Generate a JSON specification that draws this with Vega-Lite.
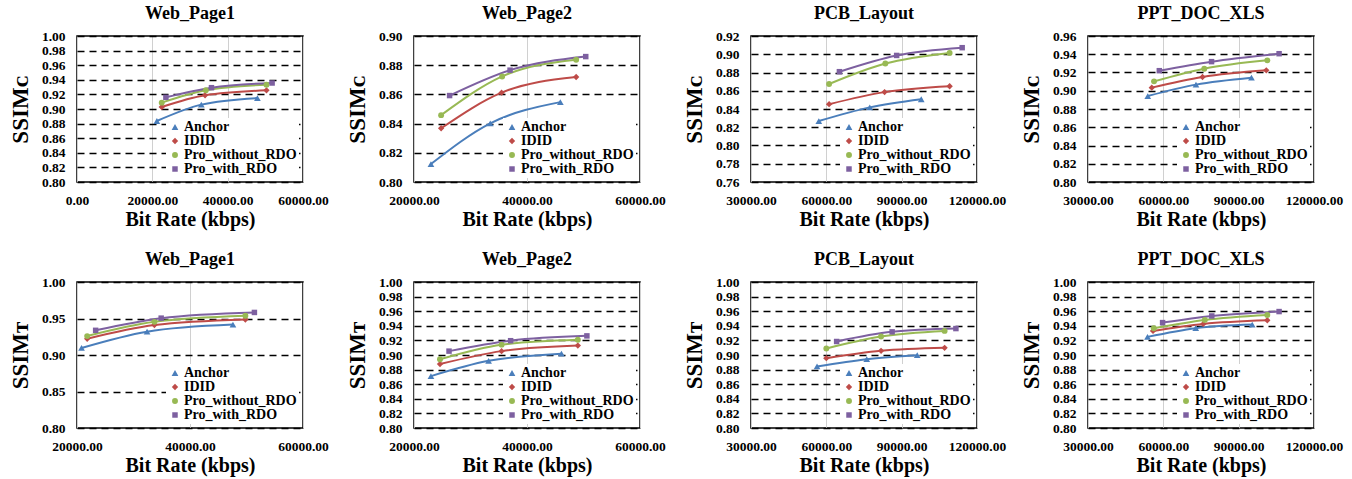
{
  "$schema": "https://vega.github.io/schema/vega-lite/v6.json",
  "padding": {"left": 8, "top": 4, "right": 5, "bottom": 2},
  "background": "white",
  "data": {"values": [
    {"chart":"W1C","series":"Anchor","rate":21200,"ssim":0.8836},
    {"chart":"W1C","series":"Anchor","rate":33000,"ssim":0.9060},
    {"chart":"W1C","series":"Anchor","rate":47900,"ssim":0.9150},
    {"chart":"W1C","series":"IDID","rate":22500,"ssim":0.9027},
    {"chart":"W1C","series":"IDID","rate":34000,"ssim":0.9187},
    {"chart":"W1C","series":"IDID","rate":50300,"ssim":0.9256},
    {"chart":"W1C","series":"Pro_without_RDO","rate":22500,"ssim":0.9087},
    {"chart":"W1C","series":"Pro_without_RDO","rate":34200,"ssim":0.9256},
    {"chart":"W1C","series":"Pro_without_RDO","rate":50300,"ssim":0.9333},
    {"chart":"W1C","series":"Pro_with_RDO","rate":23600,"ssim":0.9160},
    {"chart":"W1C","series":"Pro_with_RDO","rate":35700,"ssim":0.9292},
    {"chart":"W1C","series":"Pro_with_RDO","rate":51800,"ssim":0.9356},

    {"chart":"W2C","series":"Anchor","rate":23000,"ssim":0.8123},
    {"chart":"W2C","series":"Anchor","rate":33500,"ssim":0.8402},
    {"chart":"W2C","series":"Anchor","rate":45900,"ssim":0.8547},
    {"chart":"W2C","series":"IDID","rate":24800,"ssim":0.8368},
    {"chart":"W2C","series":"IDID","rate":35500,"ssim":0.8612},
    {"chart":"W2C","series":"IDID","rate":48700,"ssim":0.8719},
    {"chart":"W2C","series":"Pro_without_RDO","rate":24800,"ssim":0.8458},
    {"chart":"W2C","series":"Pro_without_RDO","rate":35600,"ssim":0.8723},
    {"chart":"W2C","series":"Pro_without_RDO","rate":48700,"ssim":0.8837},
    {"chart":"W2C","series":"Pro_with_RDO","rate":26300,"ssim":0.8592},
    {"chart":"W2C","series":"Pro_with_RDO","rate":37000,"ssim":0.8766},
    {"chart":"W2C","series":"Pro_with_RDO","rate":50400,"ssim":0.8859},

    {"chart":"PC","series":"Anchor","rate":57000,"ssim":0.8268},
    {"chart":"PC","series":"Anchor","rate":77300,"ssim":0.8418},
    {"chart":"PC","series":"Anchor","rate":97800,"ssim":0.8507},
    {"chart":"PC","series":"IDID","rate":61100,"ssim":0.8453},
    {"chart":"PC","series":"IDID","rate":83200,"ssim":0.8585},
    {"chart":"PC","series":"IDID","rate":109100,"ssim":0.8649},
    {"chart":"PC","series":"Pro_without_RDO","rate":61100,"ssim":0.8674},
    {"chart":"PC","series":"Pro_without_RDO","rate":83500,"ssim":0.8898},
    {"chart":"PC","series":"Pro_without_RDO","rate":109100,"ssim":0.9015},
    {"chart":"PC","series":"Pro_with_RDO","rate":65200,"ssim":0.8809},
    {"chart":"PC","series":"Pro_with_RDO","rate":88000,"ssim":0.8987},
    {"chart":"PC","series":"Pro_with_RDO","rate":114100,"ssim":0.9072},

    {"chart":"XC","series":"Anchor","rate":53800,"ssim":0.8942},
    {"chart":"XC","series":"Anchor","rate":73000,"ssim":0.9067},
    {"chart":"XC","series":"Anchor","rate":95100,"ssim":0.9143},
    {"chart":"XC","series":"IDID","rate":55400,"ssim":0.9034},
    {"chart":"XC","series":"IDID","rate":75600,"ssim":0.9151},
    {"chart":"XC","series":"IDID","rate":101000,"ssim":0.9224},
    {"chart":"XC","series":"Pro_without_RDO","rate":56300,"ssim":0.9103},
    {"chart":"XC","series":"Pro_without_RDO","rate":76300,"ssim":0.9242},
    {"chart":"XC","series":"Pro_without_RDO","rate":101400,"ssim":0.9333},
    {"chart":"XC","series":"Pro_with_RDO","rate":58400,"ssim":0.9220},
    {"chart":"XC","series":"Pro_with_RDO","rate":79200,"ssim":0.9319},
    {"chart":"XC","series":"Pro_with_RDO","rate":106100,"ssim":0.9406},

    {"chart":"W1T","series":"Anchor","rate":20800,"ssim":0.9097},
    {"chart":"W1T","series":"Anchor","rate":32400,"ssim":0.9320},
    {"chart":"W1T","series":"Anchor","rate":47600,"ssim":0.9417},
    {"chart":"W1T","series":"IDID","rate":21800,"ssim":0.9222},
    {"chart":"W1T","series":"IDID","rate":33700,"ssim":0.9410},
    {"chart":"W1T","series":"IDID","rate":49800,"ssim":0.9486},
    {"chart":"W1T","series":"Pro_without_RDO","rate":21800,"ssim":0.9259},
    {"chart":"W1T","series":"Pro_without_RDO","rate":33700,"ssim":0.9454},
    {"chart":"W1T","series":"Pro_without_RDO","rate":49800,"ssim":0.9537},
    {"chart":"W1T","series":"Pro_with_RDO","rate":23300,"ssim":0.9338},
    {"chart":"W1T","series":"Pro_with_RDO","rate":34900,"ssim":0.9505},
    {"chart":"W1T","series":"Pro_with_RDO","rate":51400,"ssim":0.9583},

    {"chart":"W2T","series":"Anchor","rate":23000,"ssim":0.8711},
    {"chart":"W2T","series":"Anchor","rate":33200,"ssim":0.8920},
    {"chart":"W2T","series":"Anchor","rate":46100,"ssim":0.9018},
    {"chart":"W2T","series":"IDID","rate":24600,"ssim":0.8876},
    {"chart":"W2T","series":"IDID","rate":35500,"ssim":0.9053},
    {"chart":"W2T","series":"IDID","rate":49000,"ssim":0.9129},
    {"chart":"W2T","series":"Pro_without_RDO","rate":24600,"ssim":0.8942},
    {"chart":"W2T","series":"Pro_without_RDO","rate":35500,"ssim":0.9142},
    {"chart":"W2T","series":"Pro_without_RDO","rate":49000,"ssim":0.9209},
    {"chart":"W2T","series":"Pro_with_RDO","rate":26200,"ssim":0.9053},
    {"chart":"W2T","series":"Pro_with_RDO","rate":37100,"ssim":0.9196},
    {"chart":"W2T","series":"Pro_with_RDO","rate":50600,"ssim":0.9262},

    {"chart":"PT","series":"Anchor","rate":56300,"ssim":0.8843},
    {"chart":"PT","series":"Anchor","rate":76100,"ssim":0.8943},
    {"chart":"PT","series":"Anchor","rate":96200,"ssim":0.8998},
    {"chart":"PT","series":"IDID","rate":60000,"ssim":0.8957},
    {"chart":"PT","series":"IDID","rate":81800,"ssim":0.9057},
    {"chart":"PT","series":"IDID","rate":107100,"ssim":0.9098},
    {"chart":"PT","series":"Pro_without_RDO","rate":60000,"ssim":0.9089},
    {"chart":"PT","series":"Pro_without_RDO","rate":81800,"ssim":0.9253},
    {"chart":"PT","series":"Pro_without_RDO","rate":107100,"ssim":0.9330},
    {"chart":"PT","series":"Pro_with_RDO","rate":64100,"ssim":0.9185},
    {"chart":"PT","series":"Pro_with_RDO","rate":86200,"ssim":0.9317},
    {"chart":"PT","series":"Pro_with_RDO","rate":111600,"ssim":0.9362},

    {"chart":"XT","series":"Anchor","rate":53700,"ssim":0.9248},
    {"chart":"XT","series":"Anchor","rate":72900,"ssim":0.9367},
    {"chart":"XT","series":"Anchor","rate":95400,"ssim":0.9417},
    {"chart":"XT","series":"IDID","rate":55900,"ssim":0.9330},
    {"chart":"XT","series":"IDID","rate":75900,"ssim":0.9426},
    {"chart":"XT","series":"IDID","rate":101400,"ssim":0.9476},
    {"chart":"XT","series":"Pro_without_RDO","rate":56200,"ssim":0.9367},
    {"chart":"XT","series":"Pro_without_RDO","rate":76500,"ssim":0.9481},
    {"chart":"XT","series":"Pro_without_RDO","rate":101400,"ssim":0.9549},
    {"chart":"XT","series":"Pro_with_RDO","rate":59700,"ssim":0.9444},
    {"chart":"XT","series":"Pro_with_RDO","rate":79300,"ssim":0.9535},
    {"chart":"XT","series":"Pro_with_RDO","rate":106100,"ssim":0.9595}
  ]},
  "columns": 4,
  "spacing": {"row": 100, "column": 111},
  "bounds": "flush",
  "resolve": {"scale": {"color": "independent", "shape": "independent", "size": "independent"}},
  "concat": [
    {"title": "Web_Page1", "width": 226, "height": 146,
     "transform": [{"filter": "datum.chart === 'W1C'"}],
     "encoding": {
       "x": {"field": "rate", "type": "quantitative", "scale": {"domain": [0, 60000], "nice": false, "zero": false}, "axis": {"values": [0, 20000, 40000, 60000], "format": ".2f", "title": "Bit Rate (kbps)"}},
       "y": {"field": "ssim", "type": "quantitative", "scale": {"domain": [0.8, 1.0], "nice": false, "zero": false}, "axis": {"values": [0.8, 0.82, 0.84, 0.86, 0.88, 0.9, 0.92, 0.94, 0.96, 0.98, 1.0], "format": ".2f", "title": "SSIMᴄ"}}
     },
     "layer": [
       {"mark": {"type": "line", "interpolate": "monotone", "strokeWidth": 2},
        "encoding": {"color": {"field": "series", "type": "nominal", "scale": {"domain": ["Anchor", "IDID", "Pro_without_RDO", "Pro_with_RDO"], "range": ["#4A7EBB", "#BE4B48", "#98B954", "#7D60A0"]}, "legend": {"encode": {"symbols": {"update": {"shape": {"signal": "datum.value === 'Anchor' ? 'M-1,-0.09L1,-0.09L1,0.09L-1,0.09ZM0,-0.36L0.38,0.28L-0.38,0.28Z' : datum.value === 'IDID' ? 'M-1,-0.09L1,-0.09L1,0.09L-1,0.09ZM0,-0.28L0.2,0L0,0.28L-0.2,0Z' : datum.value === 'Pro_without_RDO' ? 'M-1,-0.09L1,-0.09L1,0.09L-1,0.09ZM-0.32,0A0.32,0.32 0 1,1 0.32,0A0.32,0.32 0 1,1 -0.32,0Z' : 'M-1,-0.09L1,-0.09L1,0.09L-1,0.09ZM-0.34,-0.34L0.34,-0.34L0.34,0.34L-0.34,0.34Z'"}, "size": {"value": 484}, "fill": {"signal": "datum.value === 'Anchor' ? '#4A7EBB' : datum.value === 'IDID' ? '#BE4B48' : datum.value === 'Pro_without_RDO' ? '#98B954' : '#7D60A0'"}, "strokeWidth": {"value": 0}, "opacity": {"value": 1}}}}}}}},
       {"mark": {"type": "point", "filled": true, "opacity": 1},
        "encoding": {"color": {"field": "series", "type": "nominal", "legend": null},
                     "shape": {"field": "series", "type": "nominal", "scale": {"domain": ["Anchor", "IDID", "Pro_without_RDO", "Pro_with_RDO"], "range": ["triangle-up", "diamond", "circle", "square"]}, "legend": null},
                     "size": {"field": "series", "type": "nominal", "scale": {"domain": ["Anchor", "IDID", "Pro_without_RDO", "Pro_with_RDO"], "range": [45, 30, 45, 60]}, "legend": null}}}
     ]},
    {"title": "Web_Page2", "width": 226, "height": 146,
     "transform": [{"filter": "datum.chart === 'W2C'"}],
     "encoding": {
       "x": {"field": "rate", "type": "quantitative", "scale": {"domain": [20000, 60000], "nice": false, "zero": false}, "axis": {"values": [20000, 40000, 60000], "format": ".2f", "title": "Bit Rate (kbps)"}},
       "y": {"field": "ssim", "type": "quantitative", "scale": {"domain": [0.8, 0.9], "nice": false, "zero": false}, "axis": {"values": [0.8, 0.82, 0.84, 0.86, 0.88, 0.9], "format": ".2f", "title": "SSIMᴄ"}}
     },
     "layer": [
       {"mark": {"type": "line", "interpolate": "monotone", "strokeWidth": 2},
        "encoding": {"color": {"field": "series", "type": "nominal", "scale": {"domain": ["Anchor", "IDID", "Pro_without_RDO", "Pro_with_RDO"], "range": ["#4A7EBB", "#BE4B48", "#98B954", "#7D60A0"]}, "legend": {"encode": {"symbols": {"update": {"shape": {"signal": "datum.value === 'Anchor' ? 'M-1,-0.09L1,-0.09L1,0.09L-1,0.09ZM0,-0.36L0.38,0.28L-0.38,0.28Z' : datum.value === 'IDID' ? 'M-1,-0.09L1,-0.09L1,0.09L-1,0.09ZM0,-0.28L0.2,0L0,0.28L-0.2,0Z' : datum.value === 'Pro_without_RDO' ? 'M-1,-0.09L1,-0.09L1,0.09L-1,0.09ZM-0.32,0A0.32,0.32 0 1,1 0.32,0A0.32,0.32 0 1,1 -0.32,0Z' : 'M-1,-0.09L1,-0.09L1,0.09L-1,0.09ZM-0.34,-0.34L0.34,-0.34L0.34,0.34L-0.34,0.34Z'"}, "size": {"value": 484}, "fill": {"signal": "datum.value === 'Anchor' ? '#4A7EBB' : datum.value === 'IDID' ? '#BE4B48' : datum.value === 'Pro_without_RDO' ? '#98B954' : '#7D60A0'"}, "strokeWidth": {"value": 0}, "opacity": {"value": 1}}}}}}}},
       {"mark": {"type": "point", "filled": true, "opacity": 1},
        "encoding": {"color": {"field": "series", "type": "nominal", "legend": null},
                     "shape": {"field": "series", "type": "nominal", "scale": {"domain": ["Anchor", "IDID", "Pro_without_RDO", "Pro_with_RDO"], "range": ["triangle-up", "diamond", "circle", "square"]}, "legend": null},
                     "size": {"field": "series", "type": "nominal", "scale": {"domain": ["Anchor", "IDID", "Pro_without_RDO", "Pro_with_RDO"], "range": [45, 30, 45, 60]}, "legend": null}}}
     ]},
    {"title": "PCB_Layout", "width": 226, "height": 146,
     "transform": [{"filter": "datum.chart === 'PC'"}],
     "encoding": {
       "x": {"field": "rate", "type": "quantitative", "scale": {"domain": [30000, 120000], "nice": false, "zero": false}, "axis": {"values": [30000, 60000, 90000, 120000], "format": ".2f", "title": "Bit Rate (kbps)"}},
       "y": {"field": "ssim", "type": "quantitative", "scale": {"domain": [0.76, 0.92], "nice": false, "zero": false}, "axis": {"values": [0.76, 0.78, 0.8, 0.82, 0.84, 0.86, 0.88, 0.9, 0.92], "format": ".2f", "title": "SSIMᴄ"}}
     },
     "layer": [
       {"mark": {"type": "line", "interpolate": "monotone", "strokeWidth": 2},
        "encoding": {"color": {"field": "series", "type": "nominal", "scale": {"domain": ["Anchor", "IDID", "Pro_without_RDO", "Pro_with_RDO"], "range": ["#4A7EBB", "#BE4B48", "#98B954", "#7D60A0"]}, "legend": {"encode": {"symbols": {"update": {"shape": {"signal": "datum.value === 'Anchor' ? 'M-1,-0.09L1,-0.09L1,0.09L-1,0.09ZM0,-0.36L0.38,0.28L-0.38,0.28Z' : datum.value === 'IDID' ? 'M-1,-0.09L1,-0.09L1,0.09L-1,0.09ZM0,-0.28L0.2,0L0,0.28L-0.2,0Z' : datum.value === 'Pro_without_RDO' ? 'M-1,-0.09L1,-0.09L1,0.09L-1,0.09ZM-0.32,0A0.32,0.32 0 1,1 0.32,0A0.32,0.32 0 1,1 -0.32,0Z' : 'M-1,-0.09L1,-0.09L1,0.09L-1,0.09ZM-0.34,-0.34L0.34,-0.34L0.34,0.34L-0.34,0.34Z'"}, "size": {"value": 484}, "fill": {"signal": "datum.value === 'Anchor' ? '#4A7EBB' : datum.value === 'IDID' ? '#BE4B48' : datum.value === 'Pro_without_RDO' ? '#98B954' : '#7D60A0'"}, "strokeWidth": {"value": 0}, "opacity": {"value": 1}}}}}}}},
       {"mark": {"type": "point", "filled": true, "opacity": 1},
        "encoding": {"color": {"field": "series", "type": "nominal", "legend": null},
                     "shape": {"field": "series", "type": "nominal", "scale": {"domain": ["Anchor", "IDID", "Pro_without_RDO", "Pro_with_RDO"], "range": ["triangle-up", "diamond", "circle", "square"]}, "legend": null},
                     "size": {"field": "series", "type": "nominal", "scale": {"domain": ["Anchor", "IDID", "Pro_without_RDO", "Pro_with_RDO"], "range": [45, 30, 45, 60]}, "legend": null}}}
     ]},
    {"title": "PPT_DOC_XLS", "width": 226, "height": 146,
     "transform": [{"filter": "datum.chart === 'XC'"}],
     "encoding": {
       "x": {"field": "rate", "type": "quantitative", "scale": {"domain": [30000, 120000], "nice": false, "zero": false}, "axis": {"values": [30000, 60000, 90000, 120000], "format": ".2f", "title": "Bit Rate (kbps)"}},
       "y": {"field": "ssim", "type": "quantitative", "scale": {"domain": [0.8, 0.96], "nice": false, "zero": false}, "axis": {"values": [0.8, 0.82, 0.84, 0.86, 0.88, 0.9, 0.92, 0.94, 0.96], "format": ".2f", "title": "SSIMᴄ"}}
     },
     "layer": [
       {"mark": {"type": "line", "interpolate": "monotone", "strokeWidth": 2},
        "encoding": {"color": {"field": "series", "type": "nominal", "scale": {"domain": ["Anchor", "IDID", "Pro_without_RDO", "Pro_with_RDO"], "range": ["#4A7EBB", "#BE4B48", "#98B954", "#7D60A0"]}, "legend": {"encode": {"symbols": {"update": {"shape": {"signal": "datum.value === 'Anchor' ? 'M-1,-0.09L1,-0.09L1,0.09L-1,0.09ZM0,-0.36L0.38,0.28L-0.38,0.28Z' : datum.value === 'IDID' ? 'M-1,-0.09L1,-0.09L1,0.09L-1,0.09ZM0,-0.28L0.2,0L0,0.28L-0.2,0Z' : datum.value === 'Pro_without_RDO' ? 'M-1,-0.09L1,-0.09L1,0.09L-1,0.09ZM-0.32,0A0.32,0.32 0 1,1 0.32,0A0.32,0.32 0 1,1 -0.32,0Z' : 'M-1,-0.09L1,-0.09L1,0.09L-1,0.09ZM-0.34,-0.34L0.34,-0.34L0.34,0.34L-0.34,0.34Z'"}, "size": {"value": 484}, "fill": {"signal": "datum.value === 'Anchor' ? '#4A7EBB' : datum.value === 'IDID' ? '#BE4B48' : datum.value === 'Pro_without_RDO' ? '#98B954' : '#7D60A0'"}, "strokeWidth": {"value": 0}, "opacity": {"value": 1}}}}}}}},
       {"mark": {"type": "point", "filled": true, "opacity": 1},
        "encoding": {"color": {"field": "series", "type": "nominal", "legend": null},
                     "shape": {"field": "series", "type": "nominal", "scale": {"domain": ["Anchor", "IDID", "Pro_without_RDO", "Pro_with_RDO"], "range": ["triangle-up", "diamond", "circle", "square"]}, "legend": null},
                     "size": {"field": "series", "type": "nominal", "scale": {"domain": ["Anchor", "IDID", "Pro_without_RDO", "Pro_with_RDO"], "range": [45, 30, 45, 60]}, "legend": null}}}
     ]},
    {"title": "Web_Page1", "width": 226, "height": 146,
     "transform": [{"filter": "datum.chart === 'W1T'"}],
     "encoding": {
       "x": {"field": "rate", "type": "quantitative", "scale": {"domain": [20000, 60000], "nice": false, "zero": false}, "axis": {"values": [20000, 40000, 60000], "format": ".2f", "title": "Bit Rate (kbps)"}},
       "y": {"field": "ssim", "type": "quantitative", "scale": {"domain": [0.8, 1.0], "nice": false, "zero": false}, "axis": {"values": [0.8, 0.85, 0.9, 0.95, 1.0], "format": ".2f", "title": "SSIMᴛ"}}
     },
     "layer": [
       {"mark": {"type": "line", "interpolate": "monotone", "strokeWidth": 2},
        "encoding": {"color": {"field": "series", "type": "nominal", "scale": {"domain": ["Anchor", "IDID", "Pro_without_RDO", "Pro_with_RDO"], "range": ["#4A7EBB", "#BE4B48", "#98B954", "#7D60A0"]}, "legend": {"encode": {"symbols": {"update": {"shape": {"signal": "datum.value === 'Anchor' ? 'M-1,-0.09L1,-0.09L1,0.09L-1,0.09ZM0,-0.36L0.38,0.28L-0.38,0.28Z' : datum.value === 'IDID' ? 'M-1,-0.09L1,-0.09L1,0.09L-1,0.09ZM0,-0.28L0.2,0L0,0.28L-0.2,0Z' : datum.value === 'Pro_without_RDO' ? 'M-1,-0.09L1,-0.09L1,0.09L-1,0.09ZM-0.32,0A0.32,0.32 0 1,1 0.32,0A0.32,0.32 0 1,1 -0.32,0Z' : 'M-1,-0.09L1,-0.09L1,0.09L-1,0.09ZM-0.34,-0.34L0.34,-0.34L0.34,0.34L-0.34,0.34Z'"}, "size": {"value": 484}, "fill": {"signal": "datum.value === 'Anchor' ? '#4A7EBB' : datum.value === 'IDID' ? '#BE4B48' : datum.value === 'Pro_without_RDO' ? '#98B954' : '#7D60A0'"}, "strokeWidth": {"value": 0}, "opacity": {"value": 1}}}}}}}},
       {"mark": {"type": "point", "filled": true, "opacity": 1},
        "encoding": {"color": {"field": "series", "type": "nominal", "legend": null},
                     "shape": {"field": "series", "type": "nominal", "scale": {"domain": ["Anchor", "IDID", "Pro_without_RDO", "Pro_with_RDO"], "range": ["triangle-up", "diamond", "circle", "square"]}, "legend": null},
                     "size": {"field": "series", "type": "nominal", "scale": {"domain": ["Anchor", "IDID", "Pro_without_RDO", "Pro_with_RDO"], "range": [45, 30, 45, 60]}, "legend": null}}}
     ]},
    {"title": "Web_Page2", "width": 226, "height": 146,
     "transform": [{"filter": "datum.chart === 'W2T'"}],
     "encoding": {
       "x": {"field": "rate", "type": "quantitative", "scale": {"domain": [20000, 60000], "nice": false, "zero": false}, "axis": {"values": [20000, 40000, 60000], "format": ".2f", "title": "Bit Rate (kbps)"}},
       "y": {"field": "ssim", "type": "quantitative", "scale": {"domain": [0.8, 1.0], "nice": false, "zero": false}, "axis": {"values": [0.8, 0.82, 0.84, 0.86, 0.88, 0.9, 0.92, 0.94, 0.96, 0.98, 1.0], "format": ".2f", "title": "SSIMᴛ"}}
     },
     "layer": [
       {"mark": {"type": "line", "interpolate": "monotone", "strokeWidth": 2},
        "encoding": {"color": {"field": "series", "type": "nominal", "scale": {"domain": ["Anchor", "IDID", "Pro_without_RDO", "Pro_with_RDO"], "range": ["#4A7EBB", "#BE4B48", "#98B954", "#7D60A0"]}, "legend": {"encode": {"symbols": {"update": {"shape": {"signal": "datum.value === 'Anchor' ? 'M-1,-0.09L1,-0.09L1,0.09L-1,0.09ZM0,-0.36L0.38,0.28L-0.38,0.28Z' : datum.value === 'IDID' ? 'M-1,-0.09L1,-0.09L1,0.09L-1,0.09ZM0,-0.28L0.2,0L0,0.28L-0.2,0Z' : datum.value === 'Pro_without_RDO' ? 'M-1,-0.09L1,-0.09L1,0.09L-1,0.09ZM-0.32,0A0.32,0.32 0 1,1 0.32,0A0.32,0.32 0 1,1 -0.32,0Z' : 'M-1,-0.09L1,-0.09L1,0.09L-1,0.09ZM-0.34,-0.34L0.34,-0.34L0.34,0.34L-0.34,0.34Z'"}, "size": {"value": 484}, "fill": {"signal": "datum.value === 'Anchor' ? '#4A7EBB' : datum.value === 'IDID' ? '#BE4B48' : datum.value === 'Pro_without_RDO' ? '#98B954' : '#7D60A0'"}, "strokeWidth": {"value": 0}, "opacity": {"value": 1}}}}}}}},
       {"mark": {"type": "point", "filled": true, "opacity": 1},
        "encoding": {"color": {"field": "series", "type": "nominal", "legend": null},
                     "shape": {"field": "series", "type": "nominal", "scale": {"domain": ["Anchor", "IDID", "Pro_without_RDO", "Pro_with_RDO"], "range": ["triangle-up", "diamond", "circle", "square"]}, "legend": null},
                     "size": {"field": "series", "type": "nominal", "scale": {"domain": ["Anchor", "IDID", "Pro_without_RDO", "Pro_with_RDO"], "range": [45, 30, 45, 60]}, "legend": null}}}
     ]},
    {"title": "PCB_Layout", "width": 226, "height": 146,
     "transform": [{"filter": "datum.chart === 'PT'"}],
     "encoding": {
       "x": {"field": "rate", "type": "quantitative", "scale": {"domain": [30000, 120000], "nice": false, "zero": false}, "axis": {"values": [30000, 60000, 90000, 120000], "format": ".2f", "title": "Bit Rate (kbps)"}},
       "y": {"field": "ssim", "type": "quantitative", "scale": {"domain": [0.8, 1.0], "nice": false, "zero": false}, "axis": {"values": [0.8, 0.82, 0.84, 0.86, 0.88, 0.9, 0.92, 0.94, 0.96, 0.98, 1.0], "format": ".2f", "title": "SSIMᴛ"}}
     },
     "layer": [
       {"mark": {"type": "line", "interpolate": "monotone", "strokeWidth": 2},
        "encoding": {"color": {"field": "series", "type": "nominal", "scale": {"domain": ["Anchor", "IDID", "Pro_without_RDO", "Pro_with_RDO"], "range": ["#4A7EBB", "#BE4B48", "#98B954", "#7D60A0"]}, "legend": {"encode": {"symbols": {"update": {"shape": {"signal": "datum.value === 'Anchor' ? 'M-1,-0.09L1,-0.09L1,0.09L-1,0.09ZM0,-0.36L0.38,0.28L-0.38,0.28Z' : datum.value === 'IDID' ? 'M-1,-0.09L1,-0.09L1,0.09L-1,0.09ZM0,-0.28L0.2,0L0,0.28L-0.2,0Z' : datum.value === 'Pro_without_RDO' ? 'M-1,-0.09L1,-0.09L1,0.09L-1,0.09ZM-0.32,0A0.32,0.32 0 1,1 0.32,0A0.32,0.32 0 1,1 -0.32,0Z' : 'M-1,-0.09L1,-0.09L1,0.09L-1,0.09ZM-0.34,-0.34L0.34,-0.34L0.34,0.34L-0.34,0.34Z'"}, "size": {"value": 484}, "fill": {"signal": "datum.value === 'Anchor' ? '#4A7EBB' : datum.value === 'IDID' ? '#BE4B48' : datum.value === 'Pro_without_RDO' ? '#98B954' : '#7D60A0'"}, "strokeWidth": {"value": 0}, "opacity": {"value": 1}}}}}}}},
       {"mark": {"type": "point", "filled": true, "opacity": 1},
        "encoding": {"color": {"field": "series", "type": "nominal", "legend": null},
                     "shape": {"field": "series", "type": "nominal", "scale": {"domain": ["Anchor", "IDID", "Pro_without_RDO", "Pro_with_RDO"], "range": ["triangle-up", "diamond", "circle", "square"]}, "legend": null},
                     "size": {"field": "series", "type": "nominal", "scale": {"domain": ["Anchor", "IDID", "Pro_without_RDO", "Pro_with_RDO"], "range": [45, 30, 45, 60]}, "legend": null}}}
     ]},
    {"title": "PPT_DOC_XLS", "width": 226, "height": 146,
     "transform": [{"filter": "datum.chart === 'XT'"}],
     "encoding": {
       "x": {"field": "rate", "type": "quantitative", "scale": {"domain": [30000, 120000], "nice": false, "zero": false}, "axis": {"values": [30000, 60000, 90000, 120000], "format": ".2f", "title": "Bit Rate (kbps)"}},
       "y": {"field": "ssim", "type": "quantitative", "scale": {"domain": [0.8, 1.0], "nice": false, "zero": false}, "axis": {"values": [0.8, 0.82, 0.84, 0.86, 0.88, 0.9, 0.92, 0.94, 0.96, 0.98, 1.0], "format": ".2f", "title": "SSIMᴛ"}}
     },
     "layer": [
       {"mark": {"type": "line", "interpolate": "monotone", "strokeWidth": 2},
        "encoding": {"color": {"field": "series", "type": "nominal", "scale": {"domain": ["Anchor", "IDID", "Pro_without_RDO", "Pro_with_RDO"], "range": ["#4A7EBB", "#BE4B48", "#98B954", "#7D60A0"]}, "legend": {"encode": {"symbols": {"update": {"shape": {"signal": "datum.value === 'Anchor' ? 'M-1,-0.09L1,-0.09L1,0.09L-1,0.09ZM0,-0.36L0.38,0.28L-0.38,0.28Z' : datum.value === 'IDID' ? 'M-1,-0.09L1,-0.09L1,0.09L-1,0.09ZM0,-0.28L0.2,0L0,0.28L-0.2,0Z' : datum.value === 'Pro_without_RDO' ? 'M-1,-0.09L1,-0.09L1,0.09L-1,0.09ZM-0.32,0A0.32,0.32 0 1,1 0.32,0A0.32,0.32 0 1,1 -0.32,0Z' : 'M-1,-0.09L1,-0.09L1,0.09L-1,0.09ZM-0.34,-0.34L0.34,-0.34L0.34,0.34L-0.34,0.34Z'"}, "size": {"value": 484}, "fill": {"signal": "datum.value === 'Anchor' ? '#4A7EBB' : datum.value === 'IDID' ? '#BE4B48' : datum.value === 'Pro_without_RDO' ? '#98B954' : '#7D60A0'"}, "strokeWidth": {"value": 0}, "opacity": {"value": 1}}}}}}}},
       {"mark": {"type": "point", "filled": true, "opacity": 1},
        "encoding": {"color": {"field": "series", "type": "nominal", "legend": null},
                     "shape": {"field": "series", "type": "nominal", "scale": {"domain": ["Anchor", "IDID", "Pro_without_RDO", "Pro_with_RDO"], "range": ["triangle-up", "diamond", "circle", "square"]}, "legend": null},
                     "size": {"field": "series", "type": "nominal", "scale": {"domain": ["Anchor", "IDID", "Pro_without_RDO", "Pro_with_RDO"], "range": [45, 30, 45, 60]}, "legend": null}}}
     ]}
  ],
  "config": {
    "font": "Liberation Serif",
    "view": {"stroke": "black", "strokeWidth": 1.5},
    "title": {"font": "Liberation Serif", "fontSize": 18, "fontWeight": "bold", "color": "black", "offset": 6},
    "axis": {"labelFont": "Liberation Serif", "labelFontWeight": "bold", "labelFontSize": 13.5, "labelColor": "black", "titleFont": "Liberation Serif", "titleFontWeight": "bold", "titleColor": "black", "ticks": false, "domain": false, "labelFlush": false, "labelOverlap": false},
    "axisX": {"gridColor": "#d0d0d0", "gridWidth": 1, "titleFontSize": 20, "labelPadding": 11, "titlePadding": 3},
    "axisY": {"gridColor": "black", "gridDash": [7, 5], "gridWidth": 1.5, "gridOpacity": 1, "titleFontSize": 23, "labelPadding": 12, "titlePadding": 9},
    "legend": {"orient": "bottom-right", "title": null, "offset": 4, "fillColor": "white", "padding": 2, "labelFont": "Liberation Serif", "labelFontWeight": "bold", "labelFontSize": 14, "labelColor": "black", "rowPadding": 0, "symbolSize": 484, "symbolOffset": 0, "labelOffset": 2}
  }
}
